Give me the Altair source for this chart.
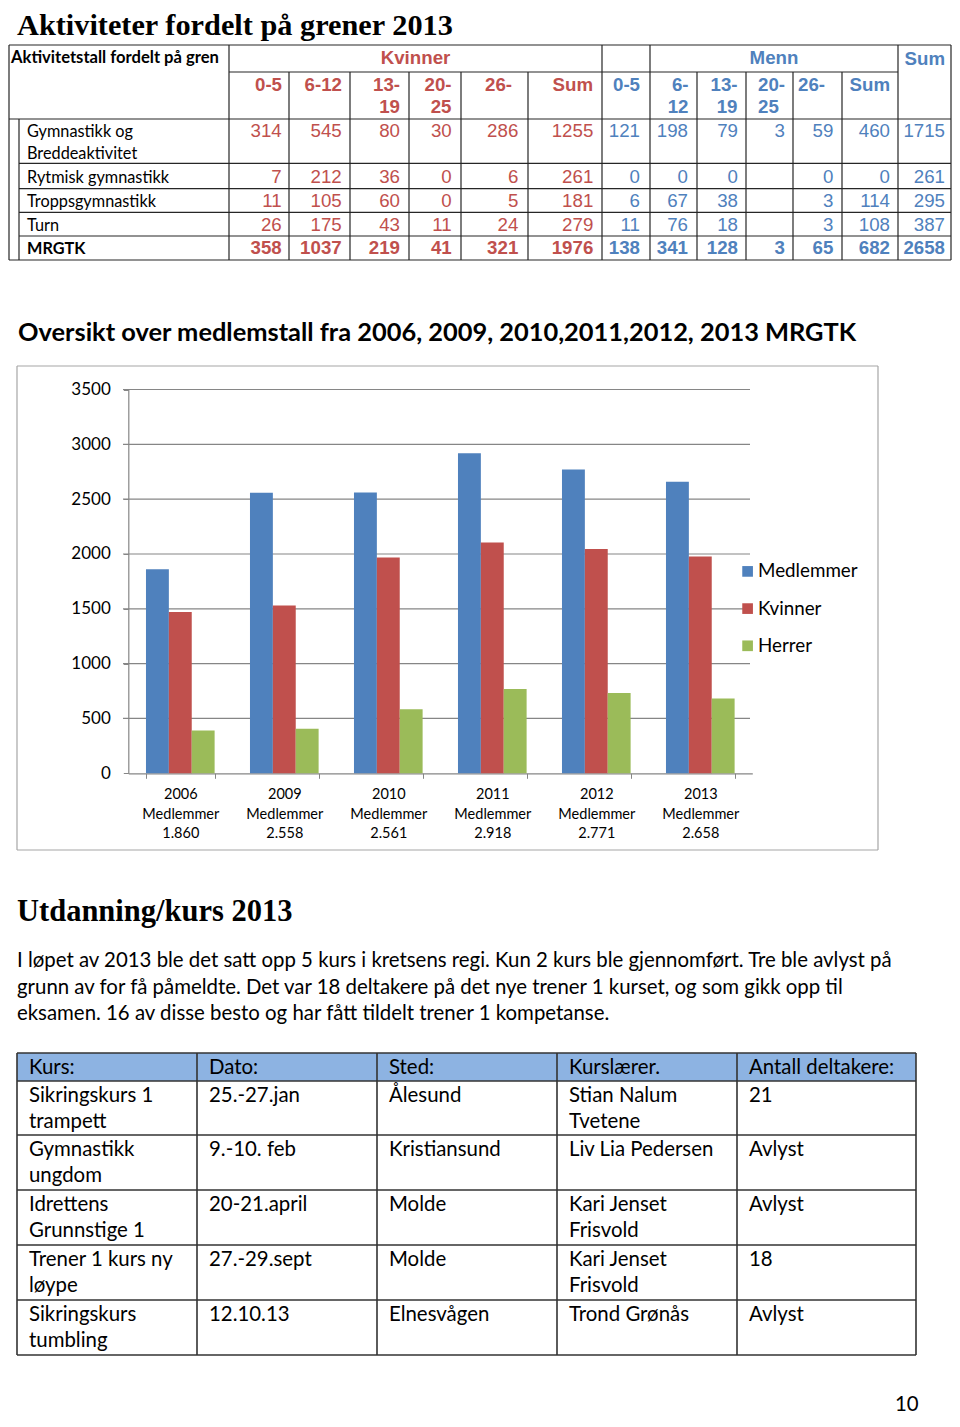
import altair as alt
import pandas as pd

# ---------------------------------------------------------------- data
heading1 = "Aktiviteter fordelt på grener 2013"
heading2 = "Oversikt over medlemstall fra 2006, 2009, 2010,2011,2012, 2013 MRGTK"
heading3 = "Utdanning/kurs 2013"
paragraph = [
    "I løpet av 2013 ble det satt opp 5 kurs i kretsens regi. Kun 2 kurs ble gjennomført. Tre ble avlyst på",
    "grunn av for få påmeldte. Det var 18 deltakere på det nye trener 1 kurset, og som gikk opp til",
    "eksamen. 16 av disse besto og har fått tildelt trener 1 kompetanse.",
]
page_number = "10"

# table 1
t1_title = "Aktivitetstall fordelt på gren"
t1_group_k = "Kvinner"
t1_group_m = "Menn"
t1_group_sum = "Sum"
t1_age_k = ["0-5", "6-12", "13-\n19", "20-\n25", "26-", "Sum"]
t1_age_m = ["0-5", "6-\n12", "13-\n19", "20-\n25", "26-", "Sum"]
t1_rows = ["Gymnastikk og\nBreddeaktivitet", "Rytmisk gymnastikk", "Troppsgymnastikk", "Turn", "MRGTK"]
t1_kvinner = [
    ["314", "545", "80", "30", "286", "1255"],
    ["7", "212", "36", "0", "6", "261"],
    ["11", "105", "60", "0", "5", "181"],
    ["26", "175", "43", "11", "24", "279"],
    ["358", "1037", "219", "41", "321", "1976"],
]
t1_menn = [
    ["121", "198", "79", "3", "59", "460"],
    ["0", "0", "0", "", "0", "0"],
    ["6", "67", "38", "", "3", "114"],
    ["11", "76", "18", "", "3", "108"],
    ["138", "341", "128", "3", "65", "682"],
]
t1_sum = ["1715", "261", "295", "387", "2658"]

# bar chart
years = ["2006", "2009", "2010", "2011", "2012", "2013"]
medlemmer = [1860, 2558, 2561, 2918, 2771, 2658]
kvinner = [1470, 1530, 1967, 2105, 2045, 1976]
herrer = [390, 407, 585, 768, 732, 682]
series_names = ["Medlemmer", "Kvinner", "Herrer"]
y_ticks = [0, 500, 1000, 1500, 2000, 2500, 3000, 3500]

# table 2
t2_header = ["Kurs:", "Dato:", "Sted:", "Kurslærer.", "Antall deltakere:"]
t2_rows = [
    ["Sikringskurs 1\ntrampett", "25.-27.jan", "Ålesund", "Stian Nalum\nTvetene", "21"],
    ["Gymnastikk\nungdom", "9.-10. feb", "Kristiansund", "Liv Lia Pedersen", "Avlyst"],
    ["Idrettens\nGrunnstige 1", "20-21.april", "Molde", "Kari Jenset\nFrisvold", "Avlyst"],
    ["Trener 1 kurs ny\nløype", "27.-29.sept", "Molde", "Kari Jenset\nFrisvold", "18"],
    ["Sikringskurs\ntumbling", "12.10.13", "Elnesvågen", "Trond Grønås", "Avlyst"],
]

# ---------------------------------------------------------------- style / layout
W, H = 944, 1410
OX, OY = 8, 8
RED, BLUE, GREEN = "#C0504D", "#4F81BD", "#9BBB59"
GRID = "#868686"
SANS = "Lato"
BODY = 20.4

T1_COLS = [9, 19, 229, 289, 350, 409, 461, 528, 602, 650, 697, 746, 793, 842, 898, 951]
T1_ROWS = [45, 72, 119, 163.3, 188.7, 212.3, 236, 260]
T1_VAL_R = [281.7, 341.7, 400, 451.7, 518.3, 593.3, 640, 688, 738, 785, 833.3, 890, 945]
T1_HDR = [(282, "r"), (342, "r"), (400, "r"), (451.5, "r"), (512, "r"), (593, "r"),
          (640, "r"), (688.5, "r"), (737.5, "r"), (758, "l"), (825, "r"), (890, "r")]
T1_ROW_BASE = [137, 183, 207, 230.7, 254]

T2_COLS = [17, 197, 377, 557, 737, 916]
T2_ROWS = [1053, 1081, 1135, 1190, 1245, 1300, 1355]

texts = []
rules = []


def add_text(x, y, t, size, color, style, lh=0):
    for i, line in enumerate(t.split("\n")):
        if line:
            texts.append(dict(x=x - OX, y=y - OY + i * lh, t=line, s=size, c=color, st=style))


def add_rule(x1, y1, x2, y2, color, w):
    rules.append(dict(x=x1 - OX, y=y1 - OY, x2=x2 - OX, y2=y2 - OY, c=color, w=w))


# headings + paragraph
add_text(17, 35, heading1, 30.3, "#000000", "serif_b")
add_text(18, 341, heading2, 25.4, "#000000", "sans_b")
add_text(17, 921, heading3, 30.5, "#000000", "serif_b")
for i, line in enumerate(paragraph):
    add_text(17, 967 + i * 26.7, line, BODY, "#000000", "sans")
add_text(895, 1411, page_number, BODY, "#000000", "sans")

# table 1 text
add_text(11, 63, t1_title, 16.6, "#000000", "sans_b")
add_text((T1_COLS[2] + T1_COLS[8]) / 2, 64, t1_group_k, 18.7, RED, "arial_b_c")
add_text((T1_COLS[9] + T1_COLS[14]) / 2, 64, t1_group_m, 18.7, BLUE, "arial_b_c")
add_text(945, 65, t1_group_sum, 18.7, BLUE, "arial_b_r")
for j, lab in enumerate(t1_age_k + t1_age_m):
    x, al = T1_HDR[j]
    add_text(x, 91, lab, 18.7, RED if j < 6 else BLUE, "arial_b_r" if al == "r" else "arial_b_l", 22)
for i, lab in enumerate(t1_rows):
    bold = lab == "MRGTK"
    add_text(27, T1_ROW_BASE[i], lab, 16.3, "#000000", "sans_b" if bold else "sans", 22.3)
    vals = t1_kvinner[i] + t1_menn[i] + [t1_sum[i]]
    for j, v in enumerate(vals):
        col = RED if j < 6 else BLUE
        add_text(T1_VAL_R[j], T1_ROW_BASE[i], v, 18.7, col, "arial_b_r" if bold else "arial_r")

# table 1 lines
LC1, LW1 = "#262626", 1.2
add_rule(T1_COLS[0], T1_ROWS[0], T1_COLS[-1], T1_ROWS[0], LC1, LW1)
add_rule(T1_COLS[2], T1_ROWS[1], T1_COLS[14], T1_ROWS[1], LC1, LW1)
add_rule(T1_COLS[0], T1_ROWS[2], T1_COLS[-1], T1_ROWS[2], LC1, LW1)
for yy in T1_ROWS[3:-1]:
    add_rule(T1_COLS[1], yy, T1_COLS[-1], yy, LC1, LW1)
add_rule(T1_COLS[0], T1_ROWS[-1], T1_COLS[-1], T1_ROWS[-1], LC1, LW1)
for k, xx in enumerate(T1_COLS):
    if k == 1:
        top = T1_ROWS[2]
    elif k in (0, 2, 8, 9, 14, 15):
        top = T1_ROWS[0]
    else:
        top = T1_ROWS[1]
    add_rule(xx, top, xx, T1_ROWS[-1], LC1, LW1)

# table 2
LC2, LW2 = "#333333", 1.6
for k, h in enumerate(t2_header):
    add_text(T2_COLS[k] + 12, 1074, h, BODY, "#000000", "sans")
for i, row in enumerate(t2_rows):
    for k, cell in enumerate(row):
        add_text(T2_COLS[k] + 12, T2_ROWS[i + 1] + 21, cell, BODY, "#000000", "sans", 26)
for yy in T2_ROWS:
    add_rule(T2_COLS[0], yy, T2_COLS[-1], yy, LC2, LW2)
for xx in T2_COLS:
    add_rule(xx, T2_ROWS[0], xx, T2_ROWS[-1], LC2, LW2)

# chart frame
FR = (17, 366, 878, 850)
FC = "#a6a6a6"
add_rule(FR[0], FR[1], FR[2], FR[1], FC, 1.2)
add_rule(FR[0], FR[3], FR[2], FR[3], FC, 1.2)
add_rule(FR[0], FR[1], FR[0], FR[3], FC, 1.2)
add_rule(FR[2], FR[1], FR[2], FR[3], FC, 1.2)

tdf = pd.DataFrame(texts)
rdf = pd.DataFrame(rules)

PX = alt.Scale(domain=[0, W], range=[0, W], nice=False, zero=False)
PY = alt.Scale(domain=[0, H], range=[0, H], nice=False, zero=False)

STYLES = {
    "serif_b": dict(font="Liberation Serif", fontWeight="bold", align="left"),
    "sans_b": dict(font=SANS, fontWeight="bold", align="left"),
    "sans": dict(font=SANS, fontWeight="normal", align="left"),
    "arial_b_r": dict(font="Liberation Sans", fontWeight="bold", align="right"),
    "arial_b_l": dict(font="Liberation Sans", fontWeight="bold", align="left"),
    "arial_b_c": dict(font="Liberation Sans", fontWeight="bold", align="center"),
    "arial_r": dict(font="Liberation Sans", fontWeight="normal", align="right"),
}

layers = []

hdr_df = pd.DataFrame([dict(x=T2_COLS[0] - OX, x2=T2_COLS[-1] - OX, y=T2_ROWS[0] - OY, y2=T2_ROWS[1] - OY)])
layers.append(
    alt.Chart(hdr_df).mark_rect(color="#8DB3E2").encode(
        x=alt.X("x:Q", scale=PX, axis=None), x2="x2:Q",
        y=alt.Y("y:Q", scale=PY, axis=None), y2="y2:Q")
)
layers.append(
    alt.Chart(rdf).mark_rule().encode(
        x=alt.X("x:Q", scale=PX, axis=None), x2="x2:Q",
        y=alt.Y("y:Q", scale=PY, axis=None), y2="y2:Q",
        color=alt.Color("c:N", scale=None),
        strokeWidth=alt.StrokeWidth("w:Q", scale=None))
)
for key, st in STYLES.items():
    sub = tdf[tdf["st"] == key]
    if len(sub) == 0:
        continue
    layers.append(
        alt.Chart(sub).mark_text(baseline="alphabetic", **st).encode(
            x=alt.X("x:Q", scale=PX, axis=None),
            y=alt.Y("y:Q", scale=PY, axis=None),
            text="t:N",
            size=alt.Size("s:Q", scale=None),
            color=alt.Color("c:N", scale=None))
    )

# ---------------------------------------------------------------- bar chart
cats = [f"{y}\nMedlemmer\n{m:,}".replace(",", ".") for y, m in zip(years, medlemmer)]
bar_rows = []
for c, a, b, d in zip(cats, medlemmer, kvinner, herrer):
    for s, v in zip(series_names, [a, b, d]):
        bar_rows.append(dict(cat=c, series=s, value=v))
bdf = pd.DataFrame(bar_rows)

Y0, Y35 = 773.3 - OY, 389.5 - OY
XA0, XA1 = 128.3 - OX, 752.3 - OX
YS = alt.Scale(domain=[0, 3500], range=[Y0, Y35], nice=False, zero=True)

grid_df = pd.DataFrame({"v": y_ticks[1:]})
layers.append(
    alt.Chart(grid_df).mark_rule(color=GRID, strokeWidth=1.2).encode(
        y=alt.Y("v:Q", scale=YS, axis=None),
        x=alt.value(123 - OX), x2=alt.value(750 - OX))
)

layers.append(
    alt.Chart(bdf).mark_bar().encode(
        x=alt.X("cat:N", sort=cats,
                scale=alt.Scale(domain=cats, range=[XA0, XA1], paddingInner=0.34, paddingOuter=0.17),
                axis=alt.Axis(orient="bottom", offset=-(H - Y0), title=None, labelAngle=0,
                              labelExpr="split(datum.label, '\\n')", tickBand="extent",
                              tickSize=5, tickColor=GRID, domainColor=GRID, domainWidth=1.2,
                              labelFont=SANS, labelFontSize=14.5, labelLineHeight=19.5,
                              labelColor="#000000", labelPadding=9.5)),
        xOffset=alt.XOffset("series:N", sort=series_names,
                            scale=alt.Scale(domain=series_names, paddingInner=0, paddingOuter=0)),
        y=alt.Y("value:Q", scale=YS,
                axis=alt.Axis(orient="left", offset=-XA0, title=None, values=y_ticks, grid=False,
                              format="d", tickSize=5, tickColor=GRID, domainColor=GRID,
                              domainWidth=1.2, labelFont=SANS, labelFontSize=17,
                              labelColor="#000000", labelPadding=13)),
        color=alt.Color("series:N", sort=series_names,
                        scale=alt.Scale(domain=series_names, range=[BLUE, RED, GREEN]),
                        legend=alt.Legend(orient="none", legendX=738.2 - OX, legendY=562 - OY,
                                          title=None, symbolType="square", symbolSize=114,
                                          symbolStrokeWidth=0, labelFont=SANS, labelFontSize=18.8,
                                          labelColor="#000000", rowPadding=17.2, labelOffset=1,
                                          padding=0)),
    )
)

chart = alt.layer(*layers).resolve_scale(
    x="independent", y="independent", color="independent", size="independent",
    strokeWidth="independent", xOffset="independent"
).properties(width=W, height=H, autosize="none", padding=0).configure_view(stroke=None)

chart.save("out.html", embed_options={"renderer": "svg", "actions": False})
